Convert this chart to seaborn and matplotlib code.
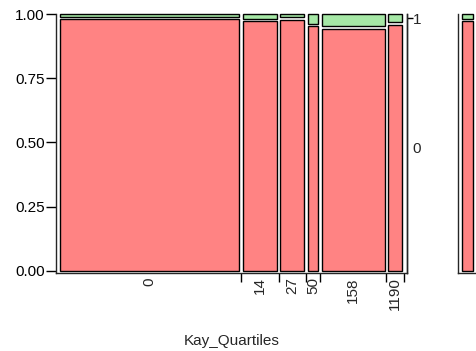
import numpy as np
import matplotlib.pyplot as plt
import seaborn as sns

# Kay_Quartiles mosaic: column width share, share of class "0" per column
quartiles = ['0', '14', '27', '50', '158', '1190']
col_share = [0.552, 0.105, 0.074, 0.031, 0.194, 0.043]
p_zero = [0.980, 0.972, 0.978, 0.953, 0.943, 0.958]

# second facet (only its first column is visible in the frame)
panel2_share = [0.034]
panel2_zero = [0.972]

red = '#FF8383'
green = '#A6E8A6'

sns.set_style('ticks')
plt.rcParams['font.family'] = ['Liberation Sans', 'DejaVu Sans']

fig = plt.figure(figsize=(4.77, 3.51), dpi=100)
ax = fig.add_axes([56 / 477, 78 / 351, 351 / 477, 259 / 351])
ax2 = fig.add_axes([458 / 477, 78 / 351, 351 / 477, 259 / 351])

pad_l, pad_r, gap, ygap = 0.0114, 0.014, 0.0100, 0.010


def mosaic(a, shares, zeros, n_slots):
    shares = np.asarray(shares, dtype=float)
    usable = 1 - pad_l - pad_r - (n_slots - 1) * gap
    widths = shares * usable
    lefts = pad_l + np.concatenate([[0], np.cumsum(widths[:-1] + gap)])
    zeros = np.asarray(zeros)
    a.bar(lefts, zeros, width=widths, bottom=0, align='edge',
          color=red, edgecolor='black', linewidth=1.0, clip_on=False)
    a.bar(lefts, 1 - zeros - ygap, width=widths, bottom=zeros + ygap,
          align='edge', color=green, edgecolor='black', linewidth=1.0,
          clip_on=False)
    return lefts, widths


lefts, widths = mosaic(ax, np.array(col_share) / sum(col_share), p_zero, 6)
mosaic(ax2, panel2_share, panel2_zero, 6)

for a in (ax, ax2):
    a.set_xlim(0, 1)
    a.set_ylim(-0.0078, 1.0)
    a.spines['top'].set_visible(False)
    a.spines['left'].set_linewidth(1.0)
    a.spines['bottom'].set_linewidth(1.0)

ax.spines['right'].set_visible(True)
ax.spines['right'].set_linewidth(1.0)
ax.set_yticks([0, 0.25, 0.5, 0.75, 1.0])
ax.set_yticklabels(['0.00', '0.25', '0.50', '0.75', '1.00'], fontsize=11)
ax.tick_params(axis='y', length=7, width=1, pad=1, colors='black')

ax.set_xticks(lefts + widths / 2)
ax.set_xticklabels(quartiles, rotation=90, fontsize=11)
ax.tick_params(axis='x', which='major', length=0, pad=3)
ax.set_xticks(lefts + widths + gap / 2, minor=True)
ax.tick_params(axis='x', which='minor', length=6.5, width=1, color='black')
ax.set_xlabel('Kay_Quartiles', fontsize=11, labelpad=17)
ax.set_ylabel('')

# right axis: class labels at the last column's segments
axr = ax.twinx()
axr.set_ylim(ax.get_ylim())
axr.yaxis.remove_overlapping_locs = False
last = p_zero[-1]
axr.set_yticks([last / 2, (last + ygap + 1) / 2])
axr.set_yticklabels(['0', '1'], fontsize=11)
axr.tick_params(axis='y', which='major', length=0, pad=4)
axr.set_yticks([(last + ygap + 1) / 2], minor=True)
axr.tick_params(axis='y', which='minor', length=4.5, width=1, color='black')
for s in ('top', 'left', 'bottom'):
    axr.spines[s].set_visible(False)
axr.spines['right'].set_linewidth(1.0)

ax2.set_yticks([])
ax2.set_xticks([])

fig.savefig('out.png', dpi=100)
